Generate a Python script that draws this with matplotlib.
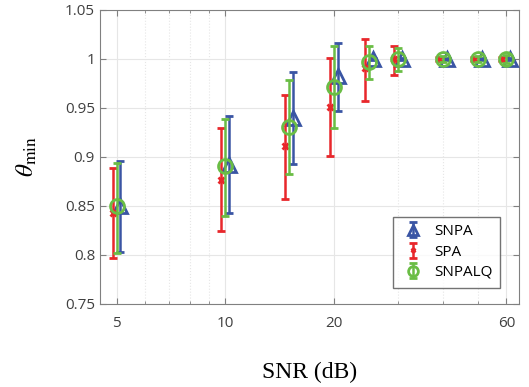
import matplotlib
matplotlib.use('Agg')
import matplotlib.pyplot as plt
import numpy as np
from matplotlib.ticker import FixedLocator, FixedFormatter, NullFormatter

plt.rcParams['font.family'] = ['Open Sans', 'DejaVu Sans']
plt.rcParams['mathtext.fontset'] = 'stix'

snr = [5, 10, 15, 20, 25, 30, 40, 50, 60]

# SNPA
snpa_mean = [0.850, 0.892, 0.940, 0.983, 1.000, 1.000, 1.000, 1.000, 1.000]
snpa_lo = [0.8035, 0.843, 0.893, 0.947, 0.999, 0.999, 0.999, 0.999, 0.999]
snpa_hi = [0.896, 0.942, 0.987, 1.016, 1.001, 1.001, 1.001, 1.001, 1.001]

# SPA
spa_mean = [0.8426, 0.8767, 0.9108, 0.951, 0.9908, 1.000, 1.000, 1.000, 1.000]
spa_lo = [0.797, 0.8246, 0.857, 0.901, 0.957, 0.9836, 0.998, 0.998, 0.998]
spa_hi = [0.889, 0.9295, 0.9636, 1.001, 1.020, 1.0136, 1.002, 1.002, 1.002]

# SNPALQ
alq_mean = [0.8495, 0.8903, 0.9305, 0.971, 0.9966, 1.000, 1.000, 1.000, 1.000]
alq_lo = [0.802, 0.840, 0.883, 0.929, 0.9796, 0.988, 0.997, 0.997, 0.996]
alq_hi = [0.894, 0.939, 0.978, 1.013, 1.0136, 1.011, 1.003, 1.003, 1.004]

blue = '#3a55a4'
red = '#e8272b'
green = '#6abd45'

fig = plt.figure(figsize=(5.29, 3.87), dpi=100)
ax = fig.add_axes([0.189, 0.2145, 0.792, 0.760])

x = np.array(snr, dtype=float)


def draw(xs, m, lo, hi, color, marker, ms, label, z):
    m = np.array(m)
    err = [m - np.array(lo), np.array(hi) - m]
    ax.errorbar(xs, m, yerr=err, fmt=marker, color=color, ecolor=color,
                markerfacecolor='none', markeredgecolor=color, markersize=ms,
                markeredgewidth=2, elinewidth=1.8, capsize=3, capthick=1.8,
                label=label, zorder=z)


draw(x * 1.025, snpa_mean, snpa_lo, snpa_hi, blue, '^', 10.5, 'SNPA', 3)
draw(x * 0.975, spa_mean, spa_lo, spa_hi, red, 'x', 5, 'SPA', 4)
draw(x, alq_mean, alq_lo, alq_hi, green, 'o', 10, 'SNPALQ', 5)

ax.set_xscale('log')
ax.set_xlim(4.5, 65)
ax.set_ylim(0.75, 1.05)
ax.xaxis.set_major_locator(FixedLocator([5, 10, 20, 60]))
ax.xaxis.set_minor_locator(FixedLocator([6, 7, 8, 9, 30, 40, 50]))
ax.xaxis.set_major_formatter(FixedFormatter(['5', '10', '20', '60']))
ax.xaxis.set_minor_formatter(NullFormatter())
ax.set_yticks([0.75, 0.8, 0.85, 0.9, 0.95, 1.0, 1.05])
ax.set_yticklabels(['0.75', '0.8', '0.85', '0.9', '0.95', '1', '1.05'])

ax.grid(True, which='major', color='#e6e6e6', linewidth=0.8)
ax.grid(True, which='minor', axis='x', color='#e6e6e6', linestyle=':', linewidth=0.8)
ax.set_axisbelow(True)

ax.tick_params(which='both', direction='in', top=True, right=True,
               colors='#808080', labelcolor='#404040', labelsize=11)
ax.tick_params(which='major', length=4)
ax.tick_params(which='minor', length=2.5)
ax.tick_params(axis='x', pad=9)
for s in ax.spines.values():
    s.set_color('#808080')

ax.set_xlabel('SNR (dB)', fontfamily='Liberation Serif', fontsize=17, labelpad=22)
ax.set_ylabel(r'$\theta_{\min}$', fontsize=18, labelpad=18)

leg = ax.legend(loc='lower right', bbox_to_anchor=(0.974, 0.03), fontsize=11,
                frameon=True, fancybox=False, markerscale=0.7, handlelength=1.6,
                handletextpad=0.6, borderpad=0.5, labelspacing=0.35)
leg.get_frame().set_edgecolor('#505050')
leg.get_frame().set_linewidth(1.0)

fig.savefig('out.png', dpi=100)
